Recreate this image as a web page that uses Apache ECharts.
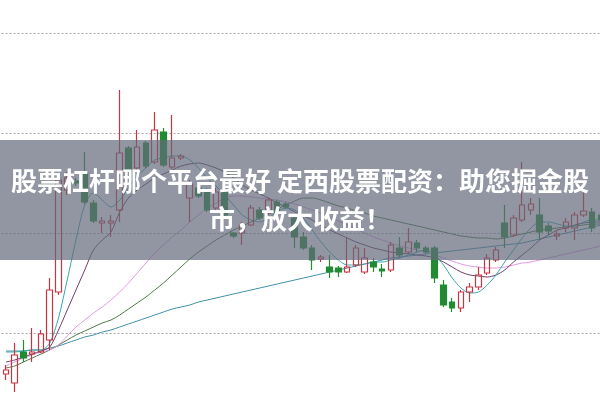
<!DOCTYPE html>
<html><head><meta charset="utf-8">
<script src="https://cdn.jsdelivr.net/npm/echarts@6/dist/echarts.min.js"></script>
<style>html,body{margin:0;padding:0;background:#fff}#c{width:600px;height:400px}</style>
</head><body><div id="c"></div>
<script>
// candles: [open, close, low, high]
const candles = [
[5.9,6.3,5.3,6.8],[5.0,7.8,4.1,9.0],[8.1,7.5,7.1,9.3],[7.9,8.1,7.1,10.5],[8.1,9.9,8.0,10.3],
[9.3,14.3,8.3,15.5],[14.1,25.3,13.8,25.6],[24.3,25.5,23.8,26.1],[25.2,25.0,24.7,25.5],[26.0,23.1,22.9,28.1],
[23.0,21.2,21.0,23.3],[21.0,21.2,20.0,21.6],[21.0,21.2,19.6,21.8],[22.3,28.0,21.1,34.3],[28.5,26.3,26.1,28.7],
[26.5,28.6,26.3,30.3],[29.0,26.7,26.5,29.2],[27.1,30.3,26.9,32.1],[30.1,26.8,26.6,30.5],[26.6,27.5,26.4,31.8],
[27.5,27.7,27.3,27.9],[23.5,24.9,21.1,25.3],[24.5,23.7,23.5,24.8],[24.1,22.3,22.1,24.5],[22.5,24.1,22.3,24.5],
[24.1,21.8,21.6,24.5],[20.0,19.7,19.5,20.1],[20.0,20.8,18.8,21.1],[20.8,22.5,20.7,22.8],[22.3,21.5,21.3,22.6],
[22.0,23.3,21.8,23.5],[23.1,22.0,21.8,23.3],[22.9,22.6,22.4,23.1],[21.5,19.6,18.5,21.8],[19.6,18.5,18.3,20.1],
[18.5,17.3,16.3,18.8],[17.4,17.6,17.1,17.8],[16.6,16.1,15.5,17.8],[16.5,16.1,15.6,16.7],[16.1,16.6,16.0,19.6],
[16.8,18.5,16.6,18.8],[16.1,17.5,15.9,18.5],[17.1,16.6,16.1,17.5],[16.4,16.2,15.6,16.9],[16.3,18.8,16.1,19.1],
[18.5,17.8,17.5,19.6],[18.1,19.1,17.9,20.5],[19.0,18.5,18.1,19.3],[18.5,18.1,17.9,18.7],[18.5,15.5,15.0,18.7],
[14.8,12.8,12.6,15.3],[13.1,12.5,12.1,13.5],[12.5,14.1,12.1,14.3],[14.1,14.6,13.1,15.0],[14.6,15.8,14.3,16.6],
[16.0,17.5,15.8,17.9],[17.3,18.3,17.1,18.6],[21.0,19.6,18.5,22.8],[19.8,21.5,19.6,21.8],[21.3,22.8,21.1,27.1],
[22.3,22.9,21.8,23.5],[21.8,20.1,19.3,23.5],[20.7,20.2,19.8,21.0],[19.7,19.9,19.3,20.3],[20.5,21.1,20.1,21.5],
[20.5,21.8,19.3,22.1],[21.8,22.2,21.6,25.3],[22.1,20.5,20.1,22.5],[21.8,21.3,21.1,22.1]
];
const categories = candles.map((_, i) => 'D' + (i + 1));
const ma5 = [8.1,8.1,8.2,8.3,8.3,9.0,11.5,15.3,19.3,22.8,24.0,23.3,22.6,23.3,24.5,25.7,26.5,27.3,27.5,27.7,27.7,27.3,26.5,25.5,24.7,23.8,22.8,21.8,21.3,21.1,21.5,22.1,22.5,22.3,21.5,20.3,19.1,18.1,17.3,16.8,16.8,16.9,17.1,17.1,17.3,17.5,17.8,18.1,18.3,17.8,16.8,15.5,14.5,14.0,14.1,14.8,15.8,17.1,18.3,19.5,20.5,21.1,21.1,20.9,20.7,20.7,21.1,21.3,21.3];
const ma10 = [7.1,7.3,7.6,7.9,8.2,8.6,10.3,12.3,14.3,16.3,18.3,19.3,20.1,22.1,23.5,24.3,24.9,25.5,25.9,26.3,26.7,26.9,27.0,26.8,26.5,26.1,25.5,24.8,24.3,23.9,23.5,23.0,22.6,22.1,21.7,21.3,20.8,20.3,19.9,19.5,19.1,18.8,18.5,18.3,18.1,18.0,17.9,17.8,17.7,17.5,17.1,16.6,16.1,15.8,15.7,15.6,15.8,16.3,17.1,17.8,18.5,19.3,19.8,20.3,20.5,20.8,21.0,21.1,21.1];
const ma20 = [6.7,7.1,7.5,7.8,8.1,8.3,8.8,9.7,10.6,11.3,12.0,12.6,13.3,14.1,15.0,16.0,17.0,18.0,18.8,19.6,20.3,21.1,21.8,22.5,23.0,23.5,23.7,23.7,23.6,23.5,23.4,23.3,23.1,22.9,22.6,22.3,22.0,21.6,21.2,20.8,20.4,20.0,19.6,19.3,19.0,18.7,18.5,18.3,18.1,17.8,17.5,17.2,16.9,16.7,16.6,16.5,16.5,16.6,16.8,17.0,17.1,17.3,17.5,17.7,17.9,18.1,18.3,18.5,18.7];
const ma30 = [6.5,6.7,7.1,7.5,7.9,8.3,8.8,9.3,9.8,10.2,10.6,11.0,11.3,11.8,12.4,13.0,13.6,14.3,15.0,15.8,16.6,17.4,18.1,18.7,19.3,19.8,20.3,20.7,21.1,21.5,22.0,22.4,22.8,23.2,23.5,23.5,23.3,23.0,22.7,22.5,22.2,22.0,21.7,21.5,21.3,21.1,20.9,20.7,20.5,20.3,20.1,19.9,19.7,19.6,19.5,19.5,19.4,19.5,19.7,19.9,20.1,20.3,20.4,20.5,20.6,20.7,20.8,20.9,20.9];
const ma60 = [8.2,8.2,8.2,8.3,8.3,8.5,8.7,9.0,9.3,9.6,9.8,10.1,10.3,10.6,10.9,11.2,11.5,11.8,12.1,12.4,12.6,12.8,13.1,13.3,13.5,13.7,13.9,14.1,14.3,14.5,14.7,14.9,15.1,15.3,15.5,15.7,15.9,16.1,16.3,16.5,16.7,16.9,17.1,17.3,17.5,17.6,17.7,17.8,17.9,18.0,18.1,18.2,18.3,18.4,18.5,18.6,18.7,18.8,18.9,19.0,19.2,19.4,19.6,19.8,20.0,20.2,20.4,20.6,20.8];
const yTicks = [10, 20, 30, 40];
const titleLines = ['股票杠杆哪个平台最好 定西股票配资：助您掘金股', '市，放大收益！'];

const chart = echarts.init(document.getElementById('c'), null, {renderer: 'canvas'});
function line(name, data, color) {
  return {name, type: 'line', data, symbol: 'none', smooth: 0.3, z: 3, clip: false,
    lineStyle: {width: 1, color}, itemStyle: {color}, animation: false};
}
chart.setOption({
  animation: false,
  backgroundColor: '#ffffff',
  grid: {left: 1.6, top: 33, width: candles.length * 8.75, height: 300, outerBoundsMode: 'none', containLabel: false},
  xAxis: {type: 'category', data: categories, boundaryGap: true, show: false},
  yAxis: {type: 'value', min: yTicks[0], max: yTicks[yTicks.length - 1], interval: 10,
    axisLine: {show: false}, axisTick: {show: false}, axisLabel: {show: false},
    splitLine: {show: true, lineStyle: {color: '#a8a8a8', width: 1, type: [2, 2]}}},
  series: [
    line('MA60', ma60, '#3f8fa8'),
    line('MA30', ma30, '#4d7a45'),
    line('MA20', ma20, '#e29ae4'),
    line('MA10', ma10, '#6b3f68'),
    line('MA5', ma5, '#35a9ad'),
    {type: 'candlestick', data: candles, barWidth: 6, z: 4, clip: false,
      itemStyle: {color: 'rgba(255,255,255,0)', color0: '#238a34',
        borderColor: '#c93440', borderColor0: '#238a34', borderWidth: 1.2}}
  ],
  graphic: [
    {type: 'rect', left: 0, top: 140, z: 100, shape: {width: 600, height: 120},
      style: {fill: 'rgba(98,106,122,0.7)'}},
    {type: 'text', x: 300, y: 181, z: 101, style: {text: titleLines[0], fill: '#ffffff',
      font: 'bold 26px "Noto Sans CJK SC"', textAlign: 'center', textVerticalAlign: 'middle'}},
    {type: 'text', x: 300, y: 219, z: 101, style: {text: titleLines[1], fill: '#ffffff',
      font: 'bold 26px "Noto Sans CJK SC"', textAlign: 'center', textVerticalAlign: 'middle'}}
  ]
});
</script></body></html>
